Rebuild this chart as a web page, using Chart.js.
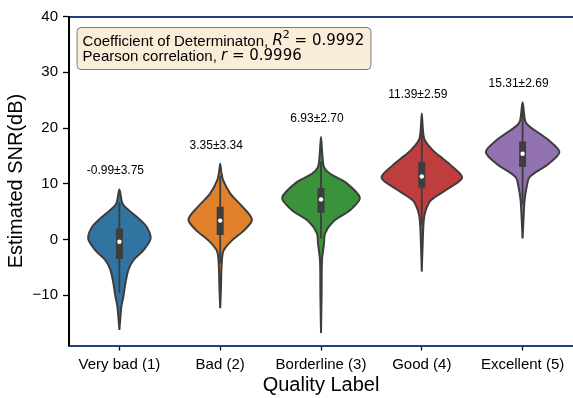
<!DOCTYPE html>
<html>
<head>
<meta charset="utf-8">
<script src="https://cdn.jsdelivr.net/npm/chart.js@4.4.1/dist/chart.umd.min.js"></script>
<style>
  html, body { margin: 0; padding: 0; overflow: hidden; background: #fff; }
  canvas { display: block; }
</style>
</head>
<body>
<canvas id="chart" width="577" height="398"></canvas>
<script>
// Quality classes and the mean±std of the estimated SNR in each class
const CATEGORIES = ['Very bad (1)', 'Bad (2)', 'Borderline (3)', 'Good (4)', 'Excellent (5)'];
const MEAN_STD = ['-0.99±3.75', '3.35±3.34', '6.93±2.70', '11.39±2.59', '15.31±2.69'];
const COLORS = ['#3274a1', '#e1812c', '#3a923a', '#c03d3e', '#9372b2'];
const Y_TICKS = [-10, 0, 10, 20, 30, 40];

// Violin outlines: SNR levels (dB), bottom tip to top tip, and the kernel-density half-width at each level
const VIOLIN_LEVELS = [
  [-16.2, -12.0, -10.2, -7.8, -5.4, -3.7, -1.9, 0.2, 2.3, 3.8, 5.3, 6.5, 8.96],
  [-12.3, -8.5, -5.4, -3.1, -1.9, -0.1, 1.7, 3.6, 5.9, 8.25, 10.6, 12.0, 13.6],
  [-16.75, -10.0, -3.7, -0.7, 1.1, 3.2, 5.3, 7.5, 10.3, 11.8, 13.0, 15.5, 18.4],
  [-5.75, 0.0, 3.5, 5.3, 7.05, 9.1, 11.1, 13.3, 14.5, 16.0, 17.8, 19.5, 22.6],
  [0.2, 4.0, 7.05, 9.4, 11.2, 13.6, 15.7, 17.8, 19.6, 20.4, 21.3, 24.6]
];
const VIOLIN_WIDTHS = [
  [0, 0.02, 0.04, 0.06, 0.09, 0.14, 0.24, 0.31, 0.27, 0.19, 0.09, 0.03, 0],
  [0, 0.008, 0.012, 0.02, 0.035, 0.12, 0.24, 0.315, 0.22, 0.10, 0.03, 0.012, 0],
  [0, 0.006, 0.01, 0.03, 0.04, 0.12, 0.29, 0.385, 0.24, 0.09, 0.03, 0.012, 0],
  [0, 0.01, 0.02, 0.04, 0.09, 0.26, 0.40, 0.29, 0.21, 0.11, 0.03, 0.012, 0],
  [0, 0.01, 0.02, 0.04, 0.07, 0.26, 0.365, 0.26, 0.12, 0.06, 0.025, 0]
];

// Inner box: whisker ends, quartiles and median (dB)
const WHISKER_LOW  = [-9.6, -4.3, 0.2, 2.6, 6.3];
const Q1           = [-3.5, 0.8, 4.8, 9.3, 13.0];
const MEDIAN       = [-0.4, 3.4, 7.2, 11.3, 15.4];
const Q3           = [2.0, 5.9, 9.25, 13.9, 17.6];
const WHISKER_HIGH = [6.7, 11.5, 14.0, 20.5, 24.3];

const FIT_R2 = '0.9992';
const FIT_R = '0.9996';

const EDGE = '#3d3d3d';
const SANS = '"Liberation Sans", Arial, sans-serif';
const MATH = '"DejaVu Sans", sans-serif';

function outline(i) {
  const ys = VIOLIN_LEVELS[i], ws = VIOLIN_WIDTHS[i];
  const right = ys.map((y, k) => ({ x: i + ws[k], y }));
  const left = ys.map((y, k) => ({ x: i - ws[k], y })).reverse();
  return right.concat(left.slice(1));
}

const datasets = [];
CATEGORIES.forEach((c, i) => {
  datasets.push({
    label: c,
    data: outline(i),
    backgroundColor: COLORS[i],
    borderColor: EDGE,
    borderWidth: 2,
    tension: 0.3,
    fill: 'shape',
    pointRadius: 0,
    order: 3
  });
  datasets.push({
    data: [{ x: i, y: WHISKER_LOW[i] }, { x: i, y: WHISKER_HIGH[i] }],
    borderColor: EDGE, borderWidth: 1.8, borderCapStyle: 'butt',
    pointRadius: 0, fill: false, order: 2
  });
  datasets.push({
    data: [{ x: i, y: Q1[i] }, { x: i, y: Q3[i] }],
    borderColor: EDGE, borderWidth: 7, borderCapStyle: 'butt',
    pointRadius: 0, fill: false, order: 1
  });
  datasets.push({
    data: [{ x: i, y: MEDIAN[i] }],
    showLine: false, pointRadius: 2.2, pointBorderWidth: 0,
    pointBackgroundColor: '#ffffff', order: 0
  });
});

function drawRuns(ctx, runs, x, y) {
  let cx = x;
  runs.forEach(r => {
    ctx.font = r.font;
    ctx.fillText(r.text, cx, y + (r.dy || 0));
    cx += ctx.measureText(r.text).width;
  });
  return cx - x;
}
function runsWidth(ctx, runs) {
  let w = 0;
  runs.forEach(r => { ctx.font = r.font; w += ctx.measureText(r.text).width; });
  return w;
}

const textLayer = {
  id: 'textLayer',
  afterDatasetsDraw(chart) {
    const { ctx, chartArea: a, scales: { x, y } } = chart;
    ctx.save();
    ctx.fillStyle = '#000';
    ctx.textAlign = 'center';
    ctx.textBaseline = 'middle';
    ctx.font = '12px ' + SANS;
    MEAN_STD.forEach((t, i) => {
      const lv = VIOLIN_LEVELS[i];
      ctx.fillText(t, x.getPixelForValue(i - 0.04), y.getPixelForValue(lv[lv.length - 1] + 3.3));
    });

    // fit statistics box
    const fs = 15;
    const line1 = [
      { text: 'Coefficient of Determinaton, ', font: fs + 'px ' + SANS },
      { text: 'R', font: 'italic ' + fs + 'px ' + MATH },
      { text: '2', font: Math.round(fs * 0.7) + 'px ' + MATH, dy: -6 },
      { text: ' = ' + FIT_R2, font: fs + 'px ' + MATH }
    ];
    const line2 = [
      { text: 'Pearson correlation, ', font: fs + 'px ' + SANS },
      { text: 'r', font: 'italic ' + fs + 'px ' + MATH },
      { text: ' = ' + FIT_R, font: fs + 'px ' + MATH }
    ];
    const pad = 6;
    const bx = a.left + 0.015 * (a.right - a.left);
    const by = a.top + 0.032 * (a.bottom - a.top);
    const bw = Math.max(runsWidth(ctx, line1), runsWidth(ctx, line2)) + 2 * pad;
    const bh = 42;
    ctx.beginPath();
    ctx.roundRect(bx + 0.5, by + 0.5, bw, bh, 4);
    ctx.fillStyle = 'rgba(245,222,179,0.5)';
    ctx.fill();
    ctx.lineWidth = 1;
    ctx.strokeStyle = '#7a7a7a';
    ctx.stroke();
    ctx.fillStyle = '#000';
    ctx.textAlign = 'left';
    ctx.textBaseline = 'middle';
    drawRuns(ctx, line1, bx + pad, by + 14.5);
    drawRuns(ctx, line2, bx + pad, by + 29.5);
    ctx.restore();
  }
};

new Chart(document.getElementById('chart'), {
  type: 'line',
  data: { datasets },
  options: {
    responsive: false,
    animation: false,
    layout: { padding: 0 },
    plugins: { legend: { display: false }, tooltip: { enabled: false } },
    scales: {
      x: {
        type: 'linear',
        min: -0.5, max: 4.5,
        afterBuildTicks: s => { s.ticks = CATEGORIES.map((c, i) => ({ value: i })); },
        afterFit: s => { s.height = 52.5; },
        grid: { drawOnChartArea: false, drawTicks: true, tickLength: 5, tickWidth: 1.3, tickColor: '#000' },
        border: { display: true, color: '#24427a', width: 2 },
        ticks: {
          padding: 5,
          color: '#000',
          font: { size: 15, family: SANS },
          maxRotation: 0,
          autoSkip: false,
          callback: v => CATEGORIES[v]
        },
        title: {
          display: true, text: 'Quality Label', color: '#000',
          font: { size: 20, family: SANS },
          padding: { top: 0, bottom: 1 }
        }
      },
      top: {
        type: 'linear',
        position: 'top',
        min: -0.5, max: 4.5,
        afterFit: s => { s.height = 16.5; },
        grid: { display: false, drawTicks: false },
        border: { display: true, color: '#24427a', width: 2 },
        ticks: { display: false }
      },
      y: {
        type: 'linear',
        min: -19, max: 40,
        afterBuildTicks: s => { s.ticks = Y_TICKS.map(v => ({ value: v })); },
        afterFit: s => { s.width = 69; },
        grid: { drawOnChartArea: false, drawTicks: true, tickLength: 6, tickWidth: 1.3, tickColor: '#000' },
        border: { display: true, color: '#000', width: 2 },
        ticks: {
          padding: 5,
          color: '#000',
          font: { size: 15, family: SANS },
          callback: v => String(v).replace('-', '\u2212')
        },
        title: {
          display: true, text: 'Estimated SNR(dB)', color: '#000',
          font: { size: 20, family: SANS },
          padding: { top: 4, bottom: 0 }
        }
      }
    }
  },
  plugins: [textLayer]
});
</script>
</body>
</html>
